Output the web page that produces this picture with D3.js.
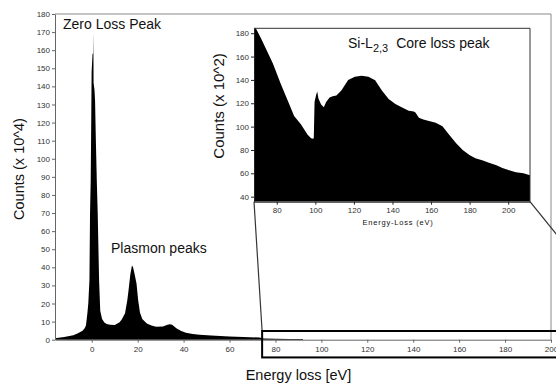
<!DOCTYPE html>
<html>
<head>
<meta charset="utf-8">
<script src="https://cdn.jsdelivr.net/npm/d3@7"></script>
<style>
  body { margin: 0; background: #fff; }
  svg text { font-family: Arial, "Liberation Sans", Helvetica, sans-serif; }
</style>
</head>
<body>
<div id="chart"></div>
<script>
// main spectrum (energy loss in eV, counts x 10^4)
const mainEnergy = [-16, -12, -8, -6, -4, -3, -2.5, -1.9, -1.5, -1.0, -0.74, -0.45, -0.3, -0.05, 0.35, 0.6, 0.7, 0.8, 1.2, 1.45, 1.8, 2.2, 2.6, 3.2, 3.7, 4.5, 5.5, 6.5, 8, 10, 12, 13, 14.5, 15.5, 16, 16.8, 17.5, 18, 18.7, 19.5, 20.2, 21, 22, 24, 26, 28, 31, 33, 34, 35, 37, 39, 41, 44, 47, 52, 56, 60, 66, 73, 75, 80, 86, 92];
const mainCounts = [0.8, 1.5, 2.5, 3.5, 5, 6.5, 8, 14.6, 20, 33, 70, 88, 109, 148, 158, 158, 170, 142, 138, 132, 110, 88, 70, 33, 16, 11.5, 9.5, 8.7, 8.2, 8.1, 9.5, 11, 14.6, 22, 27, 36, 41, 40, 36, 31, 22, 15, 11.5, 9, 7.8, 7.2, 7.3, 8.3, 8.6, 8.2, 6.2, 4.8, 3.8, 3.1, 2.7, 2.3, 2, 1.8, 1.5, 1.2, 0.6, 0.5, 0.45, 0.4];
const mainXTicks = [0, 20, 40, 60, 80, 100, 120, 140, 160, 180, 200];
const mainYTicks = d3.range(0, 181, 10);

// core loss inset (counts x 10^2)
const insetEnergy = [68, 68.6, 72, 75, 78, 82, 86, 89, 92.5, 96, 97.8, 98.7, 99.2, 99.6, 100.4, 101, 101.6, 103, 104.4, 105.6, 107.4, 109, 110.9, 113.5, 117, 120.5, 124, 127.5, 131, 134.5, 138, 141.5, 145, 148.4, 151, 151.9, 153.7, 156, 158.9, 162.4, 165.9, 169.4, 172.9, 176.4, 179.9, 183, 186.9, 190, 193.9, 197, 200.9, 204, 207.9, 212];
const insetCounts = [190, 186, 175, 164.5, 154, 137, 121, 109, 102, 93, 90, 89.6, 90, 121, 127, 130, 124, 119, 116.5, 121, 125, 126, 126.6, 131, 140, 142.7, 143.6, 142.7, 139.8, 131, 123.7, 119.4, 116.4, 113.5, 113, 112, 107.7, 106, 104.8, 103.3, 100.4, 93, 86, 80, 75.6, 73, 71, 69, 66.9, 64.5, 62.5, 61, 60, 58];
const insetXTicks = [80, 100, 120, 140, 160, 180, 200];
const insetYTicks = [40, 60, 80, 100, 120, 140, 160, 180];

// zoom window on the main axis (eV, counts x 10^4)
const zoomBox = { x0: 74.2, x1: 236.5, y0: -9.8, y1: 4.8 };

const W = 556, H = 383;
const svg = d3.select("#chart").append("svg")
  .attr("width", W)
  .attr("height", H);

const x = d3.scaleLinear().domain([-16, 200]).range([55, 551]);
const y = d3.scaleLinear().domain([0, 180]).range([339.7, 14]);

const mainData = mainEnergy.map((e, i) => ({ e: e, c: mainCounts[i] }));

// frame top + right
svg.append("path")
  .attr("d", `M${x(-16)},${y(180)}H${x(200)}V${y(0)}`)
  .attr("fill", "none")
  .attr("stroke", "#888")
  .attr("stroke-width", 1);

svg.append("path")
  .datum(mainData)
  .attr("fill", "#000")
  .attr("d", d3.area().x(d => x(d.e)).y0(y(0)).y1(d => y(d.c)));

function styleAxis(g, col) {
  g.selectAll(".domain").attr("stroke", col);
  g.selectAll(".tick line").attr("stroke", col);
  g.selectAll(".tick text")
    .attr("fill", "#333")
    .style("font-size", "8px")
    .style("font-family", "Arial, 'Liberation Sans', sans-serif");
}

svg.append("g")
  .attr("transform", `translate(0,${y(0)})`)
  .call(d3.axisBottom(x).tickValues(mainXTicks).tickSize(3).tickSizeOuter(0).tickPadding(4))
  .call(g => styleAxis(g, "#666"));

svg.append("g")
  .attr("transform", `translate(${x(-16)},0)`)
  .call(d3.axisLeft(y).tickValues(mainYTicks).tickSize(3).tickSizeOuter(0).tickPadding(2))
  .call(g => styleAxis(g, "#666"));

svg.append("text")
  .attr("transform", "translate(24,169) rotate(-90)")
  .attr("text-anchor", "middle")
  .style("font-size", "14.5px")
  .attr("fill", "#111")
  .text("Counts (x 10^4)");

svg.append("text")
  .attr("x", 298.5).attr("y", 380)
  .attr("text-anchor", "middle")
  .style("font-size", "14.5px")
  .attr("fill", "#111")
  .text("Energy loss [eV]");

svg.append("text")
  .attr("x", 63).attr("y", 28.5)
  .style("font-size", "14px")
  .attr("fill", "#111")
  .text("Zero Loss Peak");

svg.append("text")
  .attr("x", 111).attr("y", 253)
  .style("font-size", "14px")
  .attr("fill", "#111")
  .text("Plasmon peaks");

// inset
const xi = d3.scaleLinear().domain([68.2, 211.3]).range([254, 530]);
const yi = d3.scaleLinear().domain([35.7, 184.2]).range([201.7, 28.3]);
const [xiMin, xiMax] = xi.domain();
const [yiMin, yiMax] = yi.domain();

// connector lines from inset corners down to zoom box
svg.append("line")
  .attr("x1", xi(xiMin)).attr("y1", yi(yiMin))
  .attr("x2", x(zoomBox.x0)).attr("y2", y(zoomBox.y1))
  .attr("stroke", "#333").attr("stroke-width", 1.2);
svg.append("line")
  .attr("x1", xi(xiMax)).attr("y1", yi(yiMin))
  .attr("x2", x(zoomBox.x1)).attr("y2", y(zoomBox.y1))
  .attr("stroke", "#333").attr("stroke-width", 1.2);

svg.append("rect")
  .attr("x", x(zoomBox.x0))
  .attr("y", y(zoomBox.y1))
  .attr("width", x(zoomBox.x1) - x(zoomBox.x0))
  .attr("height", y(zoomBox.y0) - y(zoomBox.y1))
  .attr("fill", "none")
  .attr("stroke", "#000")
  .attr("stroke-width", 2);

svg.append("clipPath").attr("id", "insetClip")
  .append("rect")
  .attr("x", xi(xiMin)).attr("y", yi(yiMax))
  .attr("width", xi(xiMax) - xi(xiMin))
  .attr("height", yi(yiMin) - yi(yiMax));

const insetData = insetEnergy.map((e, i) => ({ e: e, c: insetCounts[i] }));

svg.append("path")
  .datum(insetData)
  .attr("clip-path", "url(#insetClip)")
  .attr("fill", "#000")
  .attr("d", d3.area().x(d => xi(d.e)).y0(yi(yiMin)).y1(d => yi(d.c)));

svg.append("path")
  .attr("d", `M${xi(xiMin)},${yi(yiMax)}H${xi(xiMax)}V${yi(yiMin)}`)
  .attr("fill", "none")
  .attr("stroke", "#333")
  .attr("stroke-width", 1);

svg.append("g")
  .attr("transform", `translate(0,${yi(yiMin)})`)
  .call(d3.axisBottom(xi).tickValues(insetXTicks).tickSize(3).tickSizeOuter(0).tickPadding(3))
  .call(g => styleAxis(g, "#222"));

svg.append("g")
  .attr("transform", `translate(${xi(xiMin)},0)`)
  .call(d3.axisLeft(yi).tickValues(insetYTicks).tickSize(3).tickSizeOuter(0).tickPadding(2))
  .call(g => styleAxis(g, "#222"));

svg.append("text")
  .attr("transform", "translate(224,106) rotate(-90)")
  .attr("text-anchor", "middle")
  .style("font-size", "15px")
  .attr("fill", "#111")
  .text("Counts (x 10^2)");

svg.append("text")
  .attr("x", 398).attr("y", 225)
  .attr("text-anchor", "middle")
  .style("font-size", "7.5px")
  .style("letter-spacing", "0.8px")
  .attr("fill", "#111")
  .text("Energy-Loss (eV)");

const title = svg.append("text")
  .attr("x", 348).attr("y", 47.5)
  .style("font-size", "14px")
  .attr("fill", "#111");
title.append("tspan").text("Si-L");
title.append("tspan").attr("dy", 4).style("font-size", "11px").text("2,3");
title.append("tspan").attr("dy", -4).attr("dx", 8).text("Core loss peak");
</script>
</body>
</html>
